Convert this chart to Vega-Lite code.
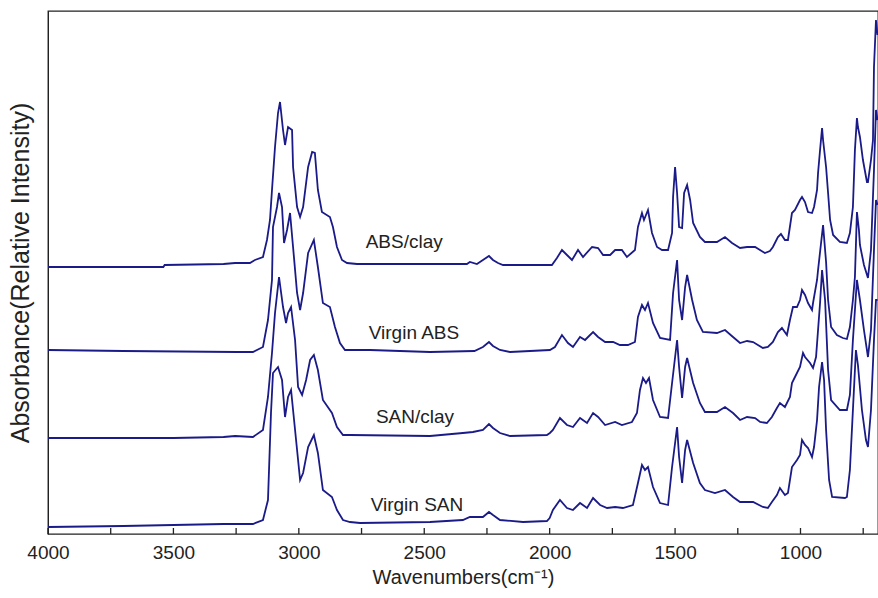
{
  "$schema": "https://vega.github.io/schema/vega-lite/v6.json",
  "width": 830,
  "height": 523,
  "autosize": {"type": "none"},
  "padding": {"left": 48, "top": 11, "right": 0, "bottom": 64},
  "background": "white",
  "config": {
    "view": {"stroke": "#222", "strokeWidth": 1.3},
    "font": "Liberation Sans",
    "axis": {"grid": false, "domainColor": "#222", "labelColor": "#222", "titleColor": "#222", "titleFontWeight": "normal", "labelFont": "Liberation Sans", "titleFont": "Liberation Sans"}
  },
  "datasets": {
    "xticks": [{"w":4000},{"w":3750},{"w":3500},{"w":3250},{"w":3000},{"w":2750},{"w":2500},{"w":2250},{"w":2000},{"w":1750},{"w":1500},{"w":1250},{"w":1000},{"w":750}],
    "spectra": [
      {"s":"ABS/clay","w":4000,"a":267},{"s":"ABS/clay","w":3540,"a":267},{"s":"ABS/clay","w":3535,"a":269},{"s":"ABS/clay","w":3300,"a":270},{"s":"ABS/clay","w":3254,"a":271},{"s":"ABS/clay","w":3195,"a":271},{"s":"ABS/clay","w":3175,"a":274},{"s":"ABS/clay","w":3143,"a":277},{"s":"ABS/clay","w":3127,"a":294},{"s":"ABS/clay","w":3115,"a":314},{"s":"ABS/clay","w":3107,"a":344},{"s":"ABS/clay","w":3095,"a":387},{"s":"ABS/clay","w":3083,"a":421},{"s":"ABS/clay","w":3075,"a":432},{"s":"ABS/clay","w":3063,"a":404},{"s":"ABS/clay","w":3055,"a":389},{"s":"ABS/clay","w":3043,"a":407},{"s":"ABS/clay","w":3027,"a":404},{"s":"ABS/clay","w":3023,"a":367},{"s":"ABS/clay","w":3007,"a":327},{"s":"ABS/clay","w":2995,"a":317},{"s":"ABS/clay","w":2983,"a":327},{"s":"ABS/clay","w":2963,"a":367},{"s":"ABS/clay","w":2947,"a":382},{"s":"ABS/clay","w":2936,"a":381},{"s":"ABS/clay","w":2924,"a":344},{"s":"ABS/clay","w":2908,"a":322},{"s":"ABS/clay","w":2876,"a":317},{"s":"ABS/clay","w":2864,"a":307},{"s":"ABS/clay","w":2848,"a":287},{"s":"ABS/clay","w":2828,"a":274},{"s":"ABS/clay","w":2808,"a":271},{"s":"ABS/clay","w":2768,"a":270},{"s":"ABS/clay","w":2500,"a":270},{"s":"ABS/clay","w":2330,"a":270},{"s":"ABS/clay","w":2318,"a":272},{"s":"ABS/clay","w":2290,"a":270},{"s":"ABS/clay","w":2266,"a":274},{"s":"ABS/clay","w":2242,"a":278},{"s":"ABS/clay","w":2226,"a":274},{"s":"ABS/clay","w":2206,"a":271},{"s":"ABS/clay","w":2186,"a":269},{"s":"ABS/clay","w":1991,"a":269},{"s":"ABS/clay","w":1971,"a":276},{"s":"ABS/clay","w":1951,"a":284},{"s":"ABS/clay","w":1931,"a":279},{"s":"ABS/clay","w":1911,"a":274},{"s":"ABS/clay","w":1887,"a":284},{"s":"ABS/clay","w":1867,"a":277},{"s":"ABS/clay","w":1831,"a":287},{"s":"ABS/clay","w":1807,"a":286},{"s":"ABS/clay","w":1787,"a":279},{"s":"ABS/clay","w":1759,"a":279},{"s":"ABS/clay","w":1739,"a":284},{"s":"ABS/clay","w":1712,"a":284},{"s":"ABS/clay","w":1692,"a":277},{"s":"ABS/clay","w":1660,"a":284},{"s":"ABS/clay","w":1648,"a":307},{"s":"ABS/clay","w":1632,"a":321},{"s":"ABS/clay","w":1624,"a":314},{"s":"ABS/clay","w":1608,"a":324},{"s":"ABS/clay","w":1592,"a":301},{"s":"ABS/clay","w":1572,"a":287},{"s":"ABS/clay","w":1552,"a":284},{"s":"ABS/clay","w":1528,"a":284},{"s":"ABS/clay","w":1512,"a":301},{"s":"ABS/clay","w":1508,"a":337},{"s":"ABS/clay","w":1500,"a":367},{"s":"ABS/clay","w":1492,"a":341},{"s":"ABS/clay","w":1484,"a":307},{"s":"ABS/clay","w":1472,"a":306},{"s":"ABS/clay","w":1464,"a":341},{"s":"ABS/clay","w":1452,"a":349},{"s":"ABS/clay","w":1440,"a":334},{"s":"ABS/clay","w":1428,"a":311},{"s":"ABS/clay","w":1401,"a":297},{"s":"ABS/clay","w":1381,"a":292},{"s":"ABS/clay","w":1333,"a":292},{"s":"ABS/clay","w":1301,"a":297},{"s":"ABS/clay","w":1273,"a":291},{"s":"ABS/clay","w":1241,"a":286},{"s":"ABS/clay","w":1213,"a":287},{"s":"ABS/clay","w":1181,"a":287},{"s":"ABS/clay","w":1142,"a":281},{"s":"ABS/clay","w":1122,"a":283},{"s":"ABS/clay","w":1110,"a":287},{"s":"ABS/clay","w":1090,"a":297},{"s":"ABS/clay","w":1078,"a":300},{"s":"ABS/clay","w":1062,"a":294},{"s":"ABS/clay","w":1050,"a":294},{"s":"ABS/clay","w":1034,"a":321},{"s":"ABS/clay","w":1022,"a":324},{"s":"ABS/clay","w":1002,"a":334},{"s":"ABS/clay","w":994,"a":337},{"s":"ABS/clay","w":982,"a":332},{"s":"ABS/clay","w":970,"a":322},{"s":"ABS/clay","w":954,"a":321},{"s":"ABS/clay","w":946,"a":327},{"s":"ABS/clay","w":934,"a":344},{"s":"ABS/clay","w":930,"a":361},{"s":"ABS/clay","w":922,"a":384},{"s":"ABS/clay","w":914,"a":406},{"s":"ABS/clay","w":910,"a":394},{"s":"ABS/clay","w":898,"a":367},{"s":"ABS/clay","w":890,"a":341},{"s":"ABS/clay","w":882,"a":314},{"s":"ABS/clay","w":870,"a":299},{"s":"ABS/clay","w":843,"a":292},{"s":"ABS/clay","w":815,"a":291},{"s":"ABS/clay","w":803,"a":301},{"s":"ABS/clay","w":791,"a":327},{"s":"ABS/clay","w":783,"a":384},{"s":"ABS/clay","w":775,"a":416},{"s":"ABS/clay","w":771,"a":407},{"s":"ABS/clay","w":763,"a":397},{"s":"ABS/clay","w":751,"a":374},{"s":"ABS/clay","w":735,"a":352},{"s":"ABS/clay","w":731,"a":352},{"s":"ABS/clay","w":719,"a":374},{"s":"ABS/clay","w":711,"a":394},{"s":"ABS/clay","w":707,"a":467},{"s":"ABS/clay","w":699,"a":514},{"s":"ABS/clay","w":693,"a":499},

      {"s":"Virgin ABS","w":4000,"a":184},{"s":"Virgin ABS","w":3700,"a":183},{"s":"Virgin ABS","w":3250,"a":182},{"s":"Virgin ABS","w":3183,"a":182},{"s":"Virgin ABS","w":3143,"a":187},{"s":"Virgin ABS","w":3123,"a":214},{"s":"Virgin ABS","w":3107,"a":254},{"s":"Virgin ABS","w":3103,"a":307},{"s":"Virgin ABS","w":3087,"a":327},{"s":"Virgin ABS","w":3079,"a":341},{"s":"Virgin ABS","w":3067,"a":327},{"s":"Virgin ABS","w":3059,"a":291},{"s":"Virgin ABS","w":3047,"a":304},{"s":"Virgin ABS","w":3035,"a":321},{"s":"Virgin ABS","w":3023,"a":287},{"s":"Virgin ABS","w":3007,"a":241},{"s":"Virgin ABS","w":2995,"a":224},{"s":"Virgin ABS","w":2983,"a":241},{"s":"Virgin ABS","w":2963,"a":281},{"s":"Virgin ABS","w":2940,"a":294},{"s":"Virgin ABS","w":2924,"a":267},{"s":"Virgin ABS","w":2904,"a":231},{"s":"Virgin ABS","w":2876,"a":227},{"s":"Virgin ABS","w":2856,"a":207},{"s":"Virgin ABS","w":2836,"a":191},{"s":"Virgin ABS","w":2816,"a":184},{"s":"Virgin ABS","w":2716,"a":184},{"s":"Virgin ABS","w":2477,"a":182},{"s":"Virgin ABS","w":2300,"a":183},{"s":"Virgin ABS","w":2266,"a":187},{"s":"Virgin ABS","w":2242,"a":192},{"s":"Virgin ABS","w":2226,"a":188},{"s":"Virgin ABS","w":2198,"a":184},{"s":"Virgin ABS","w":2158,"a":182},{"s":"Virgin ABS","w":1999,"a":184},{"s":"Virgin ABS","w":1979,"a":187},{"s":"Virgin ABS","w":1951,"a":199},{"s":"Virgin ABS","w":1927,"a":191},{"s":"Virgin ABS","w":1907,"a":187},{"s":"Virgin ABS","w":1879,"a":197},{"s":"Virgin ABS","w":1859,"a":194},{"s":"Virgin ABS","w":1827,"a":202},{"s":"Virgin ABS","w":1807,"a":197},{"s":"Virgin ABS","w":1779,"a":192},{"s":"Virgin ABS","w":1747,"a":192},{"s":"Virgin ABS","w":1720,"a":189},{"s":"Virgin ABS","w":1688,"a":189},{"s":"Virgin ABS","w":1660,"a":192},{"s":"Virgin ABS","w":1648,"a":217},{"s":"Virgin ABS","w":1632,"a":229},{"s":"Virgin ABS","w":1620,"a":224},{"s":"Virgin ABS","w":1608,"a":231},{"s":"Virgin ABS","w":1588,"a":211},{"s":"Virgin ABS","w":1560,"a":196},{"s":"Virgin ABS","w":1520,"a":194},{"s":"Virgin ABS","w":1508,"a":241},{"s":"Virgin ABS","w":1492,"a":274},{"s":"Virgin ABS","w":1484,"a":234},{"s":"Virgin ABS","w":1472,"a":214},{"s":"Virgin ABS","w":1460,"a":247},{"s":"Virgin ABS","w":1452,"a":259},{"s":"Virgin ABS","w":1432,"a":234},{"s":"Virgin ABS","w":1413,"a":214},{"s":"Virgin ABS","w":1389,"a":202},{"s":"Virgin ABS","w":1333,"a":201},{"s":"Virgin ABS","w":1301,"a":204},{"s":"Virgin ABS","w":1269,"a":197},{"s":"Virgin ABS","w":1241,"a":191},{"s":"Virgin ABS","w":1213,"a":193},{"s":"Virgin ABS","w":1189,"a":192},{"s":"Virgin ABS","w":1150,"a":186},{"s":"Virgin ABS","w":1130,"a":187},{"s":"Virgin ABS","w":1110,"a":192},{"s":"Virgin ABS","w":1090,"a":202},{"s":"Virgin ABS","w":1074,"a":206},{"s":"Virgin ABS","w":1054,"a":199},{"s":"Virgin ABS","w":1042,"a":214},{"s":"Virgin ABS","w":1030,"a":227},{"s":"Virgin ABS","w":1014,"a":227},{"s":"Virgin ABS","w":1002,"a":234},{"s":"Virgin ABS","w":994,"a":244},{"s":"Virgin ABS","w":982,"a":239},{"s":"Virgin ABS","w":970,"a":231},{"s":"Virgin ABS","w":954,"a":224},{"s":"Virgin ABS","w":950,"a":231},{"s":"Virgin ABS","w":934,"a":254},{"s":"Virgin ABS","w":930,"a":264},{"s":"Virgin ABS","w":910,"a":309},{"s":"Virgin ABS","w":898,"a":272},{"s":"Virgin ABS","w":890,"a":234},{"s":"Virgin ABS","w":878,"a":207},{"s":"Virgin ABS","w":855,"a":199},{"s":"Virgin ABS","w":831,"a":196},{"s":"Virgin ABS","w":815,"a":195},{"s":"Virgin ABS","w":803,"a":207},{"s":"Virgin ABS","w":791,"a":234},{"s":"Virgin ABS","w":783,"a":257},{"s":"Virgin ABS","w":775,"a":322},{"s":"Virgin ABS","w":767,"a":304},{"s":"Virgin ABS","w":763,"a":289},{"s":"Virgin ABS","w":747,"a":269},{"s":"Virgin ABS","w":731,"a":256},{"s":"Virgin ABS","w":719,"a":284},{"s":"Virgin ABS","w":707,"a":364},{"s":"Virgin ABS","w":699,"a":424},{"s":"Virgin ABS","w":693,"a":414},

      {"s":"SAN/clay","w":4000,"a":96},{"s":"SAN/clay","w":3500,"a":96},{"s":"SAN/clay","w":3300,"a":97},{"s":"SAN/clay","w":3254,"a":98},{"s":"SAN/clay","w":3183,"a":97},{"s":"SAN/clay","w":3143,"a":104},{"s":"SAN/clay","w":3123,"a":137},{"s":"SAN/clay","w":3107,"a":181},{"s":"SAN/clay","w":3095,"a":221},{"s":"SAN/clay","w":3079,"a":257},{"s":"SAN/clay","w":3063,"a":227},{"s":"SAN/clay","w":3051,"a":211},{"s":"SAN/clay","w":3043,"a":221},{"s":"SAN/clay","w":3031,"a":227},{"s":"SAN/clay","w":3015,"a":194},{"s":"SAN/clay","w":3003,"a":147},{"s":"SAN/clay","w":2987,"a":139},{"s":"SAN/clay","w":2971,"a":154},{"s":"SAN/clay","w":2955,"a":174},{"s":"SAN/clay","w":2940,"a":179},{"s":"SAN/clay","w":2924,"a":164},{"s":"SAN/clay","w":2904,"a":134},{"s":"SAN/clay","w":2868,"a":121},{"s":"SAN/clay","w":2848,"a":107},{"s":"SAN/clay","w":2824,"a":99},{"s":"SAN/clay","w":2796,"a":99},{"s":"SAN/clay","w":2477,"a":98},{"s":"SAN/clay","w":2346,"a":101},{"s":"SAN/clay","w":2306,"a":102},{"s":"SAN/clay","w":2266,"a":104},{"s":"SAN/clay","w":2242,"a":110},{"s":"SAN/clay","w":2226,"a":106},{"s":"SAN/clay","w":2198,"a":101},{"s":"SAN/clay","w":2158,"a":98},{"s":"SAN/clay","w":2011,"a":99},{"s":"SAN/clay","w":1999,"a":101},{"s":"SAN/clay","w":1987,"a":104},{"s":"SAN/clay","w":1959,"a":116},{"s":"SAN/clay","w":1931,"a":109},{"s":"SAN/clay","w":1907,"a":107},{"s":"SAN/clay","w":1879,"a":116},{"s":"SAN/clay","w":1851,"a":111},{"s":"SAN/clay","w":1827,"a":121},{"s":"SAN/clay","w":1807,"a":117},{"s":"SAN/clay","w":1779,"a":109},{"s":"SAN/clay","w":1739,"a":112},{"s":"SAN/clay","w":1712,"a":109},{"s":"SAN/clay","w":1672,"a":112},{"s":"SAN/clay","w":1652,"a":121},{"s":"SAN/clay","w":1640,"a":144},{"s":"SAN/clay","w":1628,"a":156},{"s":"SAN/clay","w":1616,"a":151},{"s":"SAN/clay","w":1604,"a":156},{"s":"SAN/clay","w":1588,"a":134},{"s":"SAN/clay","w":1560,"a":117},{"s":"SAN/clay","w":1528,"a":116},{"s":"SAN/clay","w":1512,"a":151},{"s":"SAN/clay","w":1492,"a":194},{"s":"SAN/clay","w":1484,"a":167},{"s":"SAN/clay","w":1472,"a":136},{"s":"SAN/clay","w":1460,"a":167},{"s":"SAN/clay","w":1452,"a":176},{"s":"SAN/clay","w":1428,"a":151},{"s":"SAN/clay","w":1401,"a":131},{"s":"SAN/clay","w":1381,"a":122},{"s":"SAN/clay","w":1333,"a":122},{"s":"SAN/clay","w":1301,"a":127},{"s":"SAN/clay","w":1269,"a":121},{"s":"SAN/clay","w":1241,"a":114},{"s":"SAN/clay","w":1213,"a":117},{"s":"SAN/clay","w":1181,"a":116},{"s":"SAN/clay","w":1161,"a":112},{"s":"SAN/clay","w":1134,"a":111},{"s":"SAN/clay","w":1114,"a":117},{"s":"SAN/clay","w":1094,"a":126},{"s":"SAN/clay","w":1082,"a":131},{"s":"SAN/clay","w":1062,"a":127},{"s":"SAN/clay","w":1042,"a":137},{"s":"SAN/clay","w":1034,"a":151},{"s":"SAN/clay","w":1022,"a":157},{"s":"SAN/clay","w":1002,"a":167},{"s":"SAN/clay","w":990,"a":181},{"s":"SAN/clay","w":982,"a":177},{"s":"SAN/clay","w":962,"a":171},{"s":"SAN/clay","w":950,"a":166},{"s":"SAN/clay","w":938,"a":177},{"s":"SAN/clay","w":930,"a":204},{"s":"SAN/clay","w":922,"a":231},{"s":"SAN/clay","w":914,"a":264},{"s":"SAN/clay","w":902,"a":234},{"s":"SAN/clay","w":890,"a":164},{"s":"SAN/clay","w":878,"a":134},{"s":"SAN/clay","w":843,"a":124},{"s":"SAN/clay","w":815,"a":124},{"s":"SAN/clay","w":803,"a":139},{"s":"SAN/clay","w":791,"a":194},{"s":"SAN/clay","w":775,"a":254},{"s":"SAN/clay","w":763,"a":234},{"s":"SAN/clay","w":747,"a":204},{"s":"SAN/clay","w":731,"a":177},{"s":"SAN/clay","w":719,"a":204},{"s":"SAN/clay","w":707,"a":284},{"s":"SAN/clay","w":699,"a":334},{"s":"SAN/clay","w":693,"a":329},

      {"s":"Virgin SAN","w":4000,"a":7},{"s":"Virgin SAN","w":3700,"a":8},{"s":"Virgin SAN","w":3500,"a":9},{"s":"Virgin SAN","w":3300,"a":10},{"s":"Virgin SAN","w":3183,"a":10},{"s":"Virgin SAN","w":3143,"a":14},{"s":"Virgin SAN","w":3123,"a":34},{"s":"Virgin SAN","w":3111,"a":121},{"s":"Virgin SAN","w":3103,"a":161},{"s":"Virgin SAN","w":3083,"a":167},{"s":"Virgin SAN","w":3067,"a":154},{"s":"Virgin SAN","w":3055,"a":117},{"s":"Virgin SAN","w":3043,"a":137},{"s":"Virgin SAN","w":3031,"a":144},{"s":"Virgin SAN","w":3015,"a":104},{"s":"Virgin SAN","w":2995,"a":54},{"s":"Virgin SAN","w":2983,"a":61},{"s":"Virgin SAN","w":2963,"a":87},{"s":"Virgin SAN","w":2940,"a":99},{"s":"Virgin SAN","w":2924,"a":81},{"s":"Virgin SAN","w":2904,"a":44},{"s":"Virgin SAN","w":2868,"a":37},{"s":"Virgin SAN","w":2848,"a":24},{"s":"Virgin SAN","w":2824,"a":14},{"s":"Virgin SAN","w":2796,"a":12},{"s":"Virgin SAN","w":2756,"a":11},{"s":"Virgin SAN","w":2477,"a":12},{"s":"Virgin SAN","w":2346,"a":14},{"s":"Virgin SAN","w":2318,"a":17},{"s":"Virgin SAN","w":2266,"a":17},{"s":"Virgin SAN","w":2242,"a":22},{"s":"Virgin SAN","w":2226,"a":19},{"s":"Virgin SAN","w":2198,"a":14},{"s":"Virgin SAN","w":2106,"a":12},{"s":"Virgin SAN","w":2011,"a":13},{"s":"Virgin SAN","w":2000,"a":16},{"s":"Virgin SAN","w":1987,"a":24},{"s":"Virgin SAN","w":1959,"a":34},{"s":"Virgin SAN","w":1931,"a":26},{"s":"Virgin SAN","w":1907,"a":24},{"s":"Virgin SAN","w":1879,"a":31},{"s":"Virgin SAN","w":1851,"a":26},{"s":"Virgin SAN","w":1827,"a":36},{"s":"Virgin SAN","w":1799,"a":29},{"s":"Virgin SAN","w":1771,"a":26},{"s":"Virgin SAN","w":1739,"a":27},{"s":"Virgin SAN","w":1708,"a":26},{"s":"Virgin SAN","w":1668,"a":29},{"s":"Virgin SAN","w":1648,"a":51},{"s":"Virgin SAN","w":1632,"a":69},{"s":"Virgin SAN","w":1620,"a":64},{"s":"Virgin SAN","w":1608,"a":67},{"s":"Virgin SAN","w":1588,"a":47},{"s":"Virgin SAN","w":1560,"a":31},{"s":"Virgin SAN","w":1528,"a":29},{"s":"Virgin SAN","w":1512,"a":67},{"s":"Virgin SAN","w":1492,"a":107},{"s":"Virgin SAN","w":1484,"a":77},{"s":"Virgin SAN","w":1472,"a":51},{"s":"Virgin SAN","w":1460,"a":84},{"s":"Virgin SAN","w":1452,"a":94},{"s":"Virgin SAN","w":1428,"a":71},{"s":"Virgin SAN","w":1401,"a":51},{"s":"Virgin SAN","w":1381,"a":44},{"s":"Virgin SAN","w":1341,"a":41},{"s":"Virgin SAN","w":1301,"a":44},{"s":"Virgin SAN","w":1269,"a":37},{"s":"Virgin SAN","w":1241,"a":32},{"s":"Virgin SAN","w":1213,"a":32},{"s":"Virgin SAN","w":1189,"a":32},{"s":"Virgin SAN","w":1150,"a":27},{"s":"Virgin SAN","w":1130,"a":26},{"s":"Virgin SAN","w":1114,"a":32},{"s":"Virgin SAN","w":1094,"a":39},{"s":"Virgin SAN","w":1082,"a":46},{"s":"Virgin SAN","w":1062,"a":39},{"s":"Virgin SAN","w":1050,"a":41},{"s":"Virgin SAN","w":1034,"a":67},{"s":"Virgin SAN","w":1014,"a":74},{"s":"Virgin SAN","w":1002,"a":79},{"s":"Virgin SAN","w":994,"a":94},{"s":"Virgin SAN","w":982,"a":89},{"s":"Virgin SAN","w":970,"a":86},{"s":"Virgin SAN","w":954,"a":77},{"s":"Virgin SAN","w":946,"a":87},{"s":"Virgin SAN","w":934,"a":114},{"s":"Virgin SAN","w":926,"a":147},{"s":"Virgin SAN","w":914,"a":172},{"s":"Virgin SAN","w":906,"a":154},{"s":"Virgin SAN","w":898,"a":104},{"s":"Virgin SAN","w":886,"a":54},{"s":"Virgin SAN","w":874,"a":37},{"s":"Virgin SAN","w":823,"a":36},{"s":"Virgin SAN","w":815,"a":37},{"s":"Virgin SAN","w":803,"a":64},{"s":"Virgin SAN","w":791,"a":124},{"s":"Virgin SAN","w":779,"a":184},{"s":"Virgin SAN","w":771,"a":169},{"s":"Virgin SAN","w":755,"a":124},{"s":"Virgin SAN","w":739,"a":94},{"s":"Virgin SAN","w":731,"a":87},{"s":"Virgin SAN","w":719,"a":124},{"s":"Virgin SAN","w":707,"a":194},{"s":"Virgin SAN","w":699,"a":234},{"s":"Virgin SAN","w":693,"a":234}
    ],
    "labels": [
      {"s":"ABS/clay","w":2580,"a":292},
      {"s":"Virgin ABS","w":2541,"a":201},
      {"s":"SAN/clay","w":2537,"a":117},
      {"s":"Virgin SAN","w":2529,"a":29}
    ]
  },
  "layer": [
    {
      "data": {"name": "spectra"},
      "mark": {"type": "line", "color": "#1a1a88", "strokeWidth": 1.8, "interpolate": "linear", "clip": true},
      "encoding": {
        "x": {
          "field": "w", "type": "quantitative",
          "scale": {"domain": [4000, 691], "nice": false, "zero": false},
          "axis": {
            "values": [4000,3500,3000,2500,2000,1500,1000],
            "format": "d",
            "labelFlush": false,
            "labelFontSize": 19,
            "labelPadding": 9,
            "ticks": false,
            "domain": false,
            "title": "Wavenumbers(cm⁻¹)",
            "titleFontSize": 20,
            "titlePadding": 5
          }
        },
        "y": {
          "field": "a", "type": "quantitative",
          "scale": {"domain": [0, 523], "nice": false, "zero": false},
          "axis": {
            "labels": false, "ticks": false,
            "title": "Absorbance(Relative Intensity)",
            "titleFontSize": 25,
            "titlePadding": 15
          }
        },
        "detail": {"field": "s"}
      }
    },
    {
      "data": {"name": "xticks"},
      "mark": {"type": "rule", "color": "#222", "strokeWidth": 1.3},
      "encoding": {
        "x": {"field": "w", "type": "quantitative"},
        "y": {"datum": 0},
        "y2": {"datum": 6}
      }
    },
    {
      "data": {"name": "labels"},
      "mark": {"type": "text", "fontSize": 19, "color": "#222", "font": "Liberation Sans", "align": "center", "baseline": "middle"},
      "encoding": {
        "x": {"field": "w", "type": "quantitative"},
        "y": {"field": "a", "type": "quantitative"},
        "text": {"field": "s"}
      }
    }
  ]
}
